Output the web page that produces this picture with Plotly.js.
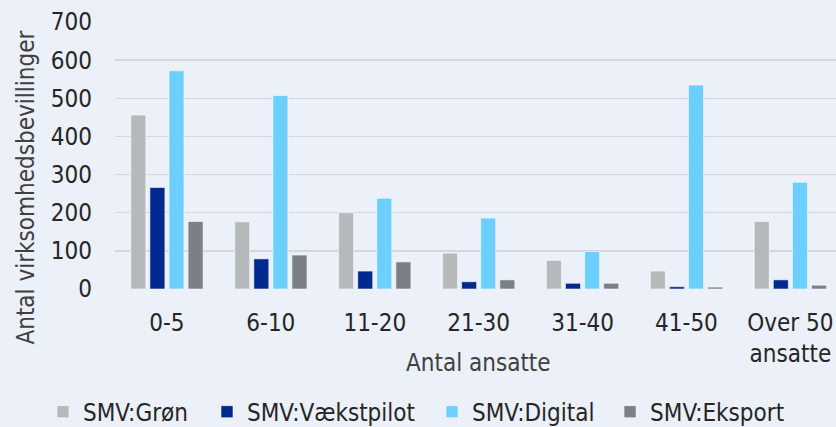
<!DOCTYPE html>
<html>
<head>
<meta charset="utf-8">
<script src="https://cdn.plot.ly/plotly-3.0.1.min.js"></script>
<style>
html,body{margin:0;padding:0;background:#ebf0f9;}
#chart{width:836px;height:427px;}
</style>
</head>
<body>
<div id="chart"></div>
<script>
// Categories (x axis) and tick labels
const categories = ['0-5', '6-10', '11-20', '21-30', '31-40', '41-50', 'Over 50 ansatte'];
const tickLabels = ['0-5', '6-10', '11-20', '21-30', '31-40', '41-50', 'Over 50<br>ansatte'];

// Series values
const seriesNames = ['SMV:Grøn', 'SMV:Vækstpilot', 'SMV:Digital', 'SMV:Eksport'];
const groen = [456, 176, 200, 94, 75, 47, 177];
const vaekstpilot = [266, 79, 47, 19, 15, 6, 24];
const digital = [572, 507, 238, 186, 98, 535, 280];
const eksport = [177, 89, 71, 24, 15, 5, 10];

const yTicks = [0, 100, 200, 300, 400, 500, 600, 700];

const colors = ['#b5b9bc', '#00298f', '#6dcfff', '#7b8087'];
const FONT = '"DejaVu Sans Condensed", "DejaVu Sans", sans-serif';

const values = [groen, vaekstpilot, digital, eksport];
const legendIds = ['legend', 'legend2', 'legend3', 'legend4'];
const legendX = [-0.0999, 0.1276, 0.4397, 0.6866];

const traces = values.map((v, i) => ({
  type: 'bar',
  name: seriesNames[i],
  x: categories,
  y: v,
  legend: legendIds[i],
  marker: {color: colors[i], line: {color: 'rgba(255,255,255,0.55)', width: 1}},
  hoverinfo: 'skip'
}));

const legendBase = {
  orientation: 'h',
  xanchor: 'left',
  yanchor: 'middle',
  y: -0.461,
  bgcolor: 'rgba(0,0,0,0)',
  font: {family: FONT, size: 24, color: '#262626'}
};

const layout = {
  width: 836,
  height: 427,
  paper_bgcolor: '#ebf0f9',
  plot_bgcolor: '#ebf0f9',
  margin: {l: 115, r: 0, t: 22, b: 138, pad: 0, autoexpand: false},
  barmode: 'group',
  bargap: 0.265,
  bargroupgap: 0.215,
  showlegend: true,
  xaxis: {
    type: 'category',
    automargin: false,
    tickvals: categories,
    ticktext: tickLabels,
    range: [-0.5, 6.439],
    showgrid: false,
    zeroline: false,
    showline: false,
    ticks: '',
    ticklabelstandoff: 17,
    tickfont: {family: FONT, size: 24, color: '#262626'}
  },
  yaxis: {
    automargin: false,
    range: [0, 700],
    tickvals: yTicks,
    ticktext: yTicks.map(String),
    showgrid: true,
    gridcolor: '#d4d7dc',
    gridwidth: 1.5,
    zeroline: false,
    showline: false,
    ticks: '',
    ticklabelstandoff: 22,
    tickfont: {family: FONT, size: 24, color: '#262626'}
  },
  annotations: [
    {
      text: 'Antal virksomhedsbevillinger',
      xref: 'paper', yref: 'paper',
      x: -0.1234, y: 0.38,
      xanchor: 'center', yanchor: 'middle',
      textangle: -90,
      showarrow: false,
      font: {family: FONT, size: 24, color: '#404040'}
    },
    {
      text: 'Antal ansatte',
      xref: 'paper', yref: 'paper',
      x: 0.5035, y: -0.277,
      xanchor: 'center', yanchor: 'middle',
      showarrow: false,
      font: {family: FONT, size: 24, color: '#404040'}
    }
  ]
};
legendIds.forEach((id, i) => {
  layout[id] = Object.assign({}, legendBase, {x: legendX[i]});
});

Plotly.newPlot('chart', traces, layout, {staticPlot: true, displayModeBar: false});
</script>
</body>
</html>
